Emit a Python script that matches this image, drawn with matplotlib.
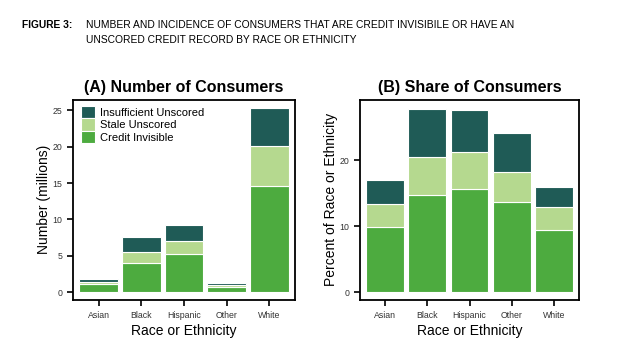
import matplotlib
matplotlib.use("Agg")
import matplotlib.pyplot as plt
import numpy as np

plt.rcParams['font.family'] = ['Liberation Sans', 'DejaVu Sans']

# data
groups = ["Asian", "Black", "Hispanic", "Other", "White"]
layers = ["Credit Invisible", "Stale Unscored", "Insufficient Unscored"]
colors = ["#4dab3f", "#b5d98f", "#1f5b56"]

# (A) number of consumers, millions
num_invisible = [1.14, 4.0, 5.2, 0.77, 14.65]
num_stale = [0.32, 1.55, 1.85, 0.2, 5.45]
num_insufficient = [0.41, 2.0, 2.2, 0.36, 5.2]

# (B) percent of race or ethnicity
pct_invisible = [9.8, 14.7, 15.7, 13.7, 9.4]
pct_stale = [3.55, 5.8, 5.5, 4.45, 3.45]
pct_insufficient = [3.6, 7.3, 6.4, 5.95, 3.1]

fig = plt.figure(figsize=(6.2, 3.57), dpi=100)

head_font = ['Liberation Sans Narrow', 'Liberation Sans']
fig.text(22/620, 1 - 25/357, "FIGURE 3:", fontsize=7.4, fontweight="bold",
         va="center", ha="left", family=head_font)
fig.text(86/620, 1 - 25/357,
         "NUMBER AND INCIDENCE OF CONSUMERS THAT ARE CREDIT INVISIBILE OR HAVE AN",
         fontsize=7.35, va="center", ha="left", family=head_font)
fig.text(86/620, 1 - 40/357, "UNSCORED CREDIT RECORD BY RACE OR ETHNICITY",
         fontsize=7.35, va="center", ha="left", family=head_font)

axA = fig.add_axes([73/620, 1 - 299.5/357, 222/620, 199.5/357])
axB = fig.add_axes([360/620, 1 - 299.5/357, 219/620, 199.5/357])

x = np.arange(len(groups))


def stacked(ax, parts):
    bottom = np.zeros(len(groups))
    handles = []
    for vals, c, name in zip(parts, colors, layers):
        h = ax.bar(x, vals, 0.9, bottom=bottom, color=c, edgecolor="white",
                   linewidth=0.8, label=name)
        handles.append(h)
        bottom = bottom + np.array(vals)
    return handles


def style(ax, title, ylabel):
    ax.set_xticks(x)
    ax.set_xticklabels(groups, fontsize=6.3, color="#333333")
    ax.tick_params(axis="y", labelsize=6.3, colors="black", labelcolor="#333333",
                   length=4, width=1.2)
    ax.tick_params(axis="x", length=4, width=1.2, pad=4)
    for s in ax.spines.values():
        s.set_linewidth(1.3)
    ax.set_title(title, fontsize=11.5, fontweight="bold", pad=6)
    ax.set_xlabel("Race or Ethnicity", fontsize=10, labelpad=3)
    ax.set_ylabel(ylabel, fontsize=10, labelpad=1)
    ax.set_xlim(-0.6, 4.6)


hA = stacked(axA, [num_invisible, num_stale, num_insufficient])
style(axA, "(A) Number of Consumers", "Number (millions)")
axA.set_ylim(-1.0, 26.4)
axA.set_yticks([0, 5, 10, 15, 20, 25])
axA.legend(hA[::-1], layers[::-1], loc="upper left", frameon=False, fontsize=8,
           handlelength=1.3, handleheight=1.3, handletextpad=0.4,
           labelspacing=0.05, borderaxespad=0.3, bbox_to_anchor=(0.0, 1.01))

stacked(axB, [pct_invisible, pct_stale, pct_insufficient])
style(axB, "(B) Share of Consumers", "Percent of Race or Ethnicity")
axB.set_ylim(-1.1, 29.1)
axB.set_yticks([0, 10, 20])

fig.savefig("out.png", dpi=100)
